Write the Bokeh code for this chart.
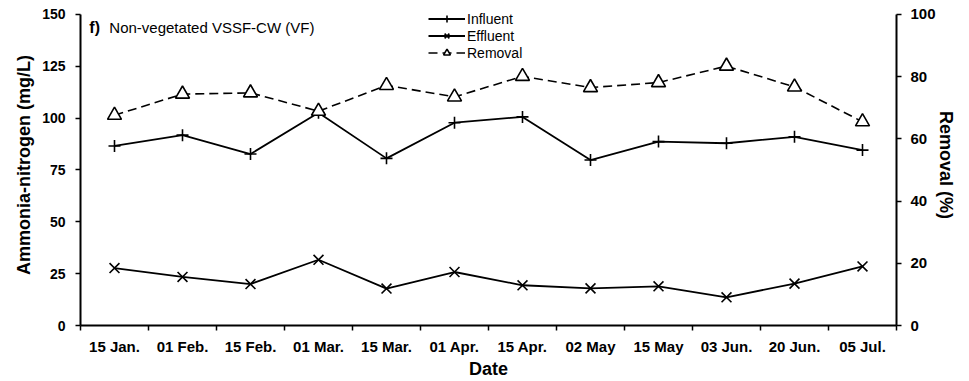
import numpy as np
from bokeh.plotting import figure
from bokeh.models import (Range1d, LinearAxis, FixedTicker, Legend, LegendItem,
                          Label, ColumnDataSource)
from bokeh.embed import file_html
from bokeh.resources import INLINE

# ---- data ----
dates = ["15 Jan.", "01 Feb.", "15 Feb.", "01 Mar.", "15 Mar.", "01 Apr.",
         "15 Apr.", "02 May", "15 May", "03 Jun.", "20 Jun.", "05 Jul."]
influent = [86.6, 91.8, 82.7, 102.6, 80.6, 97.8, 100.6, 79.8, 88.7, 87.9, 91.0, 84.6]
effluent = [27.7, 23.4, 20.0, 31.7, 17.8, 25.8, 19.4, 17.9, 18.9, 13.6, 20.2, 28.5]
removal = [67.6, 74.4, 74.8, 68.9, 77.2, 73.5, 80.1, 76.5, 78.1, 83.4, 76.7, 65.5]
left_ticks = [0, 25, 50, 75, 100, 125, 150]
right_ticks = [0, 20, 40, 60, 80, 100]

FONT = "Liberation Sans"

# layout (pixels)
W, H = 969, 381
B_LEFT, B_RIGHT, B_TOP, B_BOTTOM = 80, 73, 4, 55
AXIS_PX = 312          # pixel height of the 0..max part of the y axes
frame_h = H - B_TOP - B_BOTTOM
stretch = frame_h / AXIS_PX   # extra head-room above the axes for the legend

xpos = [i + 0.5 for i in range(len(dates))]
src = ColumnDataSource(dict(x=xpos, inf=influent, eff=effluent, rem=removal))

p = figure(width=W, height=H, x_range=Range1d(0, len(dates)),
           y_range=Range1d(0, left_ticks[-1] * stretch),
           output_backend="svg", toolbar_location=None,
           min_border_left=B_LEFT, min_border_right=B_RIGHT,
           min_border_top=B_TOP, min_border_bottom=B_BOTTOM)
p.extra_y_ranges = {"pct": Range1d(0, right_ticks[-1] * stretch)}
p.outline_line_color = None
p.xgrid.visible = False
p.ygrid.visible = False
p.background_fill_color = "white"
p.border_fill_color = "white"

# bottom axis: labels at category centres, ticks at boundaries
xa = p.xaxis[0]
xa.ticker = FixedTicker(ticks=xpos, minor_ticks=list(range(len(dates) + 1)))
xa.major_label_overrides = {x: d for x, d in zip(xpos, dates)}
xa.major_tick_out = 0
xa.major_tick_in = 0
xa.minor_tick_out = 5
xa.minor_tick_in = 0
xa.minor_tick_line_color = "black"
xa.minor_tick_line_width = 1.5
xa.axis_line_width = 2
xa.major_label_standoff = 7
xa.major_label_text_font = FONT
xa.major_label_text_font_style = "bold"
xa.major_label_text_font_size = "15px"
xa.major_label_text_color = "black"
xa.axis_label = "Date"
xa.axis_label_standoff = 1
xa.axis_label_text_font = FONT
xa.axis_label_text_font_style = "bold"
xa.axis_label_text_font_size = "18px"
xa.axis_label_text_color = "black"

# left axis
ya = p.yaxis[0]
ya.ticker = FixedTicker(ticks=left_ticks)
ya.bounds = (left_ticks[0], left_ticks[-1])
ya.major_tick_out = 5
ya.major_tick_in = 0
ya.major_tick_line_width = 1.5
ya.minor_tick_line_color = None
ya.axis_line_width = 2
ya.major_label_standoff = 10
ya.major_label_text_font = FONT
ya.major_label_text_font_style = "bold"
ya.major_label_text_font_size = "14px"
ya.major_label_text_color = "black"
ya.axis_label = "Ammonia-nitrogen (mg/L)"
ya.axis_label_standoff = 5
ya.axis_label_text_font = FONT
ya.axis_label_text_font_style = "bold"
ya.axis_label_text_font_size = "18px"
ya.axis_label_text_color = "black"

# right axis
ra = LinearAxis(y_range_name="pct", ticker=FixedTicker(ticks=right_ticks),
                bounds=(right_ticks[0], right_ticks[-1]))
ra.major_tick_out = 5
ra.major_tick_in = 0
ra.major_tick_line_width = 1.5
ra.minor_tick_line_color = None
ra.axis_line_width = 2
ra.major_label_standoff = 9
ra.major_label_text_font = FONT
ra.major_label_text_font_style = "bold"
ra.major_label_text_font_size = "15px"
ra.major_label_text_color = "black"
ra.axis_label = "Removal (%)"
ra.axis_label_standoff = -3
ra.axis_label_text_font = FONT
ra.axis_label_text_font_style = "bold"
ra.axis_label_text_font_size = "18px"
ra.axis_label_text_color = "black"
p.add_layout(ra, "right")

# series
l_in = p.line("x", "inf", source=src, line_color="black", line_width=1.8)
m_in = p.scatter("x", "inf", source=src, marker="cross", size=12,
                 line_color="black", line_width=1.6)
l_ef = p.line("x", "eff", source=src, line_color="black", line_width=1.8)
m_ef = p.scatter("x", "eff", source=src, marker="x", size=14,
                 line_color="black", line_width=1.6)
l_re = p.line("x", "rem", source=src, y_range_name="pct", line_color="black",
              line_width=1.6, line_dash="9 5")
m_re = p.scatter("x", "rem", source=src, y_range_name="pct", marker="triangle",
                 size=14, fill_color="white", line_color="black", line_width=1.6)

legend = Legend(items=[LegendItem(label="Influent", renderers=[l_in, m_in]),
                       LegendItem(label="Effluent", renderers=[l_ef, m_ef]),
                       LegendItem(label="Removal", renderers=[l_re, m_re])],
                location=(348, 264), glyph_width=37, glyph_height=17,
                label_height=17, label_standoff=2, spacing=0, padding=0,
                margin=0, border_line_color=None, background_fill_alpha=0,
                label_text_font=FONT, label_text_font_size="14px",
                label_text_color="black")
p.add_layout(legend)

# panel title
p.add_layout(Label(x=0.13, y=143.9, text="f)", text_font=FONT,
                   text_font_style="bold", text_font_size="16px",
                   text_baseline="alphabetic", text_color="black"))
p.add_layout(Label(x=0.424, y=143.9, text="Non-vegetated  VSSF-CW (VF)",
                   text_font=FONT, text_font_size="15px",
                   text_baseline="alphabetic", text_color="black"))

open("out.html", "w").write(file_html(p, INLINE))
